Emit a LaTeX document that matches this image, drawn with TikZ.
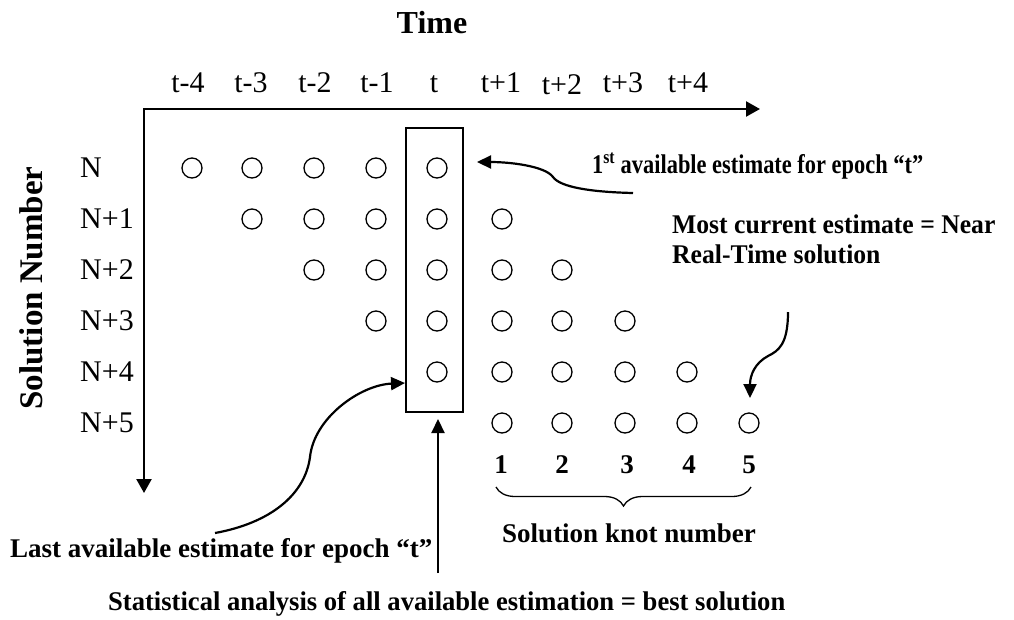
\documentclass[tikz,border=0pt]{standalone}
\usepackage{fontspec}
\setmainfont{Liberation Serif}
\usetikzlibrary{arrows.meta,decorations.pathreplacing}

\begin{document}
\begin{tikzpicture}[x=1pt,y=-1pt,
  axis/.style={line width=2.4pt,line join=miter,
    {Triangle[length=14pt,width=15pt]}-{Triangle[length=14pt,width=15pt]}},
  pointer/.style={line width=2.2pt,-{Triangle[length=14pt,width=13pt]}},
  est/.style={circle,draw,line width=1.3pt,minimum size=20pt,inner sep=0pt},
  lab/.style={font=\fontsize{30}{36}\selectfont,inner sep=0pt},
  note/.style={font=\fontsize{27}{30}\selectfont\bfseries,inner sep=0pt},
]
\useasboundingbox (0,0) rectangle (1014,619);

% axes: time to the right, solution number downwards
\coordinate (origin) at (144,109);
\coordinate (tend) at (760,109);
\coordinate (send) at (144,493);
\draw[axis] (tend) -- (origin) -- (send);

\node[font=\fontsize{32}{38}\selectfont\bfseries,anchor=base,inner sep=0pt] (time) at (432,33) {Time};
\node[font=\fontsize{33}{40}\selectfont\bfseries,rotate=90,anchor=base,inner sep=0pt] (ylab) at (42,288) {Solution Number};

% epoch labels
\foreach \lbl/\x [count=\i] in {t-4/188,t-3/251,t-2/315,t-1/377,t/434,t+1/501,t+3/623,t+4/688}
  \node[lab,anchor=base] (col\i) at (\x,92) {\lbl};
\node[lab,anchor=base] (col9) at (562,94) {t+2};

% solution rows
\foreach \lbl [count=\i from 0] in {N,N+1,N+2,N+3,N+4,N+5}
  \node[lab,anchor=base west] (row\i) at (80,{177+51*\i}) {\lbl};

% estimates: row r covers epochs r+1 .. r+5
\def\colxs{{0,192,252,314,376,437,502,562,625,687,749}}
\foreach \r in {0,...,5}{
  \foreach \c in {1,...,5}{
    \pgfmathtruncatemacro\k{\r+\c}
    \pgfmathsetmacro\xx{\colxs[\k]}
    \node[est] (e\r-\k) at (\xx,{168+51*\r}) {};
  }
}

% all estimates of epoch t
\node[draw,line width=1.3pt,minimum width=57pt,minimum height=284pt,inner sep=0pt] (tbox) at (434.5,270) {};

% knot numbers
\foreach \n/\x in {1/501,2/562,3/627,4/689,5/749}
  \node[note,anchor=base] (k\n) at (\x,473) {\n};
\draw[line width=1.3pt,decorate,decoration={brace,amplitude=19pt}] (751,487) -- (496,487);
\node[note,anchor=base] (knotlab) at (629,542) {Solution knot number};

% annotations
\node[note,anchor=base west,xscale=0.83] (first) at (592,173) {1\textsuperscript{st} available estimate for epoch “t”};
\node[note,anchor=base west,align=left,xscale=0.95] (most) at (672,263) {Most current estimate = Near\\Real-Time solution};
\node[note,anchor=base west] (last) at (10,557) {Last available estimate for epoch “t”};
\node[note,anchor=base west,xscale=0.985] (stat) at (108,610) {Statistical analysis of all available estimation = best solution};

% pointers
\coordinate (p1s) at (633,193);
\coordinate (p1t) at (477,162);
\draw[pointer] (p1s) .. controls (590,192) and (560,187) .. (553,177)
  .. controls (545,166) and (510,162) .. (p1t);

\coordinate (p2s) at (788,312);
\coordinate (p2t) at (750,398);
\draw[pointer] (p2s) .. controls (788,345) and (778,351) .. (768,356)
  .. controls (755,363) and (750,375) .. (p2t);

\coordinate (p3s) at (215,533);
\coordinate (p3t) at (405,383);
\draw[pointer] (p3s) .. controls (270,523) and (305,495) .. (310,457)
  .. controls (314,418) and (360,385) .. (p3t);

\coordinate (p4s) at (438,573);
\coordinate (p4t) at (438,419);
\draw[pointer] (p4s) -- (p4t);
\end{tikzpicture}
\end{document}
